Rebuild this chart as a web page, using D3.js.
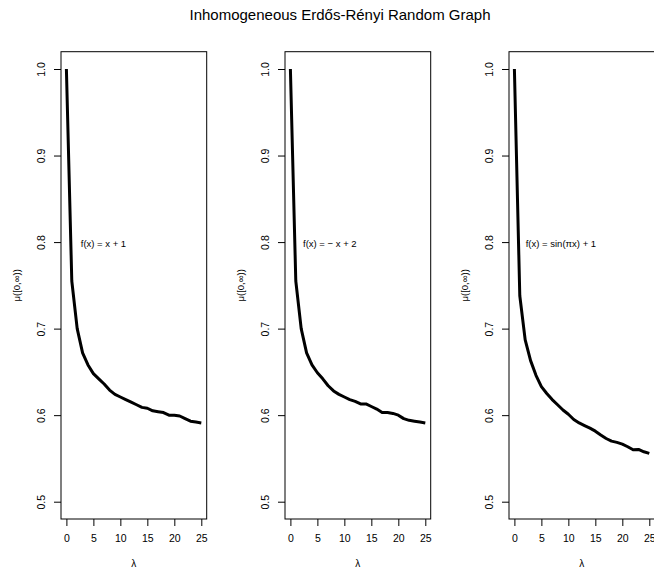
<!DOCTYPE html>
<html>
<head>
<meta charset="utf-8">
<script src="https://cdn.jsdelivr.net/npm/d3@7"></script>
<style>
  html, body { margin: 0; padding: 0; background: #fff; }
  svg { display: block; }
  text { font-family: "Liberation Sans", Arial, Helvetica, sans-serif; fill: #000; }
</style>
</head>
<body>
<svg id="chart" width="654" height="567"></svg>
<script>
// ---------------- data ----------------
const titleText = "Inhomogeneous Erdős-Rényi Random Graph";
const lambdas = [0, 1, 2, 3, 4, 5, 6, 7, 8, 9, 10, 11, 12, 13, 14, 15, 16, 17, 18, 19, 20, 21, 22, 23, 24, 25];
const muLinear = [1.000, 0.755, 0.700, 0.672, 0.658, 0.648, 0.642, 0.636, 0.629, 0.624, 0.621, 0.618, 0.615, 0.612, 0.609, 0.608, 0.605, 0.604, 0.603, 0.600, 0.600, 0.599, 0.596, 0.593, 0.592, 0.591];
const muNegLinear = [1.000, 0.755, 0.700, 0.672, 0.658, 0.649, 0.642, 0.634, 0.628, 0.624, 0.621, 0.618, 0.616, 0.613, 0.613, 0.610, 0.607, 0.603, 0.603, 0.602, 0.600, 0.596, 0.594, 0.593, 0.592, 0.591];
const muSine = [1.000, 0.738, 0.687, 0.663, 0.646, 0.633, 0.625, 0.618, 0.612, 0.606, 0.601, 0.595, 0.591, 0.588, 0.585, 0.5815, 0.577, 0.573, 0.570, 0.5685, 0.5665, 0.5635, 0.560, 0.5604, 0.5577, 0.5558];
const seriesList = [muLinear, muNegLinear, muSine];
const panelLabels = ["f(x) = x + 1", "f(x) = \u2212 x + 2", "f(x) = sin(\u03c0x) + 1"];
const xTicks = [0, 5, 10, 15, 20, 25];
const yTicks = [0.5, 0.6, 0.7, 0.8, 0.9, 1.0];
const xLabel = "\u03bb";
const yLabel = "\u03bc([0,\u221e))";

// ---------------- layout ----------------
const panelLeft = [61, 285, 509];
const panelW = 145.7;
const plotTop = 51.7, plotBottom = 519;
const labelAnchor = [2.66, 2.34, 2.1]; // annotation left edge in lambda units
const labelY = 0.798;

const svg = d3.select("#chart");

svg.append("text")
  .attr("x", 340).attr("y", 15)
  .attr("dy", "0.35em")
  .attr("text-anchor", "middle")
  .style("font-size", "15px")
  .text(titleText);

seriesList.forEach((series, i) => {
  const L = panelLeft[i];
  const x = d3.scaleLinear().domain([-1, 26]).range([L, L + panelW]);
  const y = d3.scaleLinear().domain([0.48, 1.02]).range([plotBottom, plotTop]);
  const g = svg.append("g");

  // curve
  const line = d3.line().x((d, j) => x(lambdas[j])).y(d => y(d));
  g.append("path")
    .datum(series)
    .attr("d", line)
    .attr("fill", "none")
    .attr("stroke", "#000")
    .attr("stroke-width", 3)
    .attr("stroke-linejoin", "round")
    .attr("stroke-linecap", "butt");

  // box
  g.append("rect")
    .attr("x", L).attr("y", plotTop)
    .attr("width", panelW).attr("height", plotBottom - plotTop)
    .attr("fill", "none").attr("stroke", "#000").attr("stroke-width", 1);

  // x axis
  const xa = g.append("g")
    .attr("transform", `translate(0,${plotBottom})`)
    .call(d3.axisBottom(x).tickValues(xTicks).tickSize(7).tickFormat(d3.format("d")));
  xa.select(".domain").remove();
  xa.selectAll("line").attr("stroke", "#000");
  xa.selectAll("text")
    .attr("y", 19.3).attr("dy", "0.35em")
    .style("font-size", "10.5px")
    .style("font-family", "'Liberation Sans', Arial, Helvetica, sans-serif");

  // y axis
  const ya = g.append("g")
    .attr("transform", `translate(${L},0)`)
    .call(d3.axisLeft(y).tickValues(yTicks).tickSize(7).tickFormat(d3.format(".1f")));
  ya.select(".domain").remove();
  ya.selectAll("line").attr("stroke", "#000");
  ya.selectAll("text")
    .attr("x", null).attr("dy", "0.35em")
    .attr("text-anchor", "middle")
    .attr("transform", "translate(-19.3,0) rotate(-90)")
    .style("font-size", "10.5px")
    .style("font-family", "'Liberation Sans', Arial, Helvetica, sans-serif");

  // axis titles
  g.append("text")
    .attr("x", L + panelW / 2).attr("y", 563)
    .attr("dy", "0.35em")
    .attr("text-anchor", "middle")
    .style("font-size", "10px")
    .text(xLabel);

  g.append("text")
    .attr("transform", `translate(${L - 44.3},${(plotTop + plotBottom) / 2}) rotate(-90)`)
    .attr("dy", "0.35em")
    .attr("text-anchor", "middle")
    .style("font-size", "9.5px")
    .text(yLabel);

  // annotation
  g.append("text")
    .attr("x", x(labelAnchor[i])).attr("y", y(labelY))
    .attr("dy", "0.35em")
    .attr("text-anchor", "start")
    .style("font-size", "9.5px")
    .text(panelLabels[i]);
});
</script>
</body>
</html>
